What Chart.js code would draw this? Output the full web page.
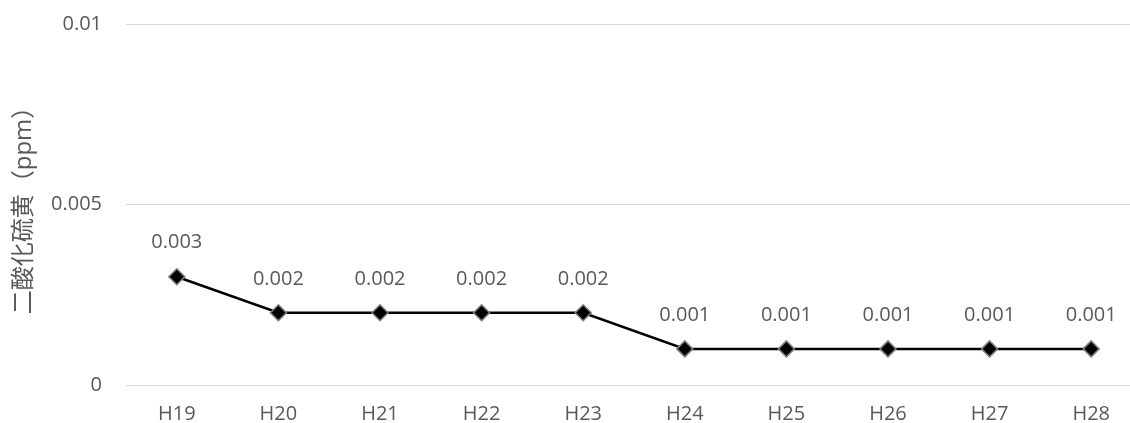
<!DOCTYPE html>
<html lang="ja">
<head>
<meta charset="utf-8">
<title>二酸化硫黄（ppm）</title>
<script src="https://cdn.jsdelivr.net/npm/chart.js@4/dist/chart.umd.min.js"></script>
<style>
  html, body { margin: 0; padding: 0; background: #ffffff; overflow: hidden; }
  #chart { display: block; }
</style>
</head>
<body>
<canvas id="chart" width="1142" height="423"></canvas>
<script>
// Fiscal years (Heisei) and annual sulfur dioxide means
const years = ['H19', 'H20', 'H21', 'H22', 'H23', 'H24', 'H25', 'H26', 'H27', 'H28'];
const so2 = [0.003, 0.002, 0.002, 0.002, 0.002, 0.001, 0.001, 0.001, 0.001, 0.001];
const yTicks = [0, 0.005, 0.01];
const yTitle = '二酸化硫黄（ppm）';

const textColor = '#595959';
const baseFont = "'Open Sans', 'Noto Sans CJK JP', sans-serif";

// Writes each point's value above its marker
const valueLabels = {
  id: 'valueLabels',
  afterDatasetsDraw(chart) {
    const ctx = chart.ctx;
    const meta = chart.getDatasetMeta(0);
    ctx.save();
    ctx.font = '20px ' + baseFont;
    ctx.fillStyle = textColor;
    ctx.textAlign = 'center';
    ctx.textBaseline = 'middle';
    meta.data.forEach((pt, i) => {
      ctx.fillText(so2[i].toFixed(3), pt.x, pt.y - 34);
    });
    ctx.restore();
  }
};

new Chart(document.getElementById('chart'), {
  type: 'line',
  data: {
    labels: years,
    datasets: [{
      data: so2,
      borderColor: '#000000',
      borderWidth: 2.5,
      pointStyle: 'rectRot',
      pointRadius: 8,
      pointHoverRadius: 8,
      pointBackgroundColor: '#000000',
      pointBorderColor: '#7f7f7f',
      pointBorderWidth: 1.5,
      tension: 0,
      fill: false
    }]
  },
  options: {
    responsive: false,
    animation: false,
    layout: { autoPadding: false, padding: { top: 24, right: 0, bottom: 0, left: 0 } },
    plugins: {
      legend: { display: false },
      tooltip: { enabled: false }
    },
    scales: {
      x: {
        offset: true,
        grid: { display: false, drawTicks: false },
        border: { display: false },
        ticks: {
          color: textColor,
          font: { family: baseFont, size: 20 },
          padding: 17,
          maxRotation: 0,
          autoSkip: false
        },
        afterFit(scale) { scale.height = 38; }
      },
      y: {
        min: 0,
        max: 0.01,
        afterBuildTicks(scale) { scale.ticks = yTicks.map(v => ({ value: v })); },
        grid: {
          color: '#d9d9d9',
          lineWidth: 1,
          drawTicks: true,
          tickLength: 24,
          tickColor: 'rgba(0,0,0,0)'
        },
        border: { display: false },
        ticks: {
          color: textColor,
          font: { family: baseFont, size: 20 },
          padding: 0,
          callback: v => String(Number(v.toFixed(3)))
        },
        title: {
          display: true,
          text: yTitle,
          color: textColor,
          font: { family: baseFont, size: 24 },
          padding: { top: 10, bottom: 0 }
        },
        afterFit(scale) { scale.width = 126; }
      }
    }
  },
  plugins: [valueLabels]
});
</script>
</body>
</html>
